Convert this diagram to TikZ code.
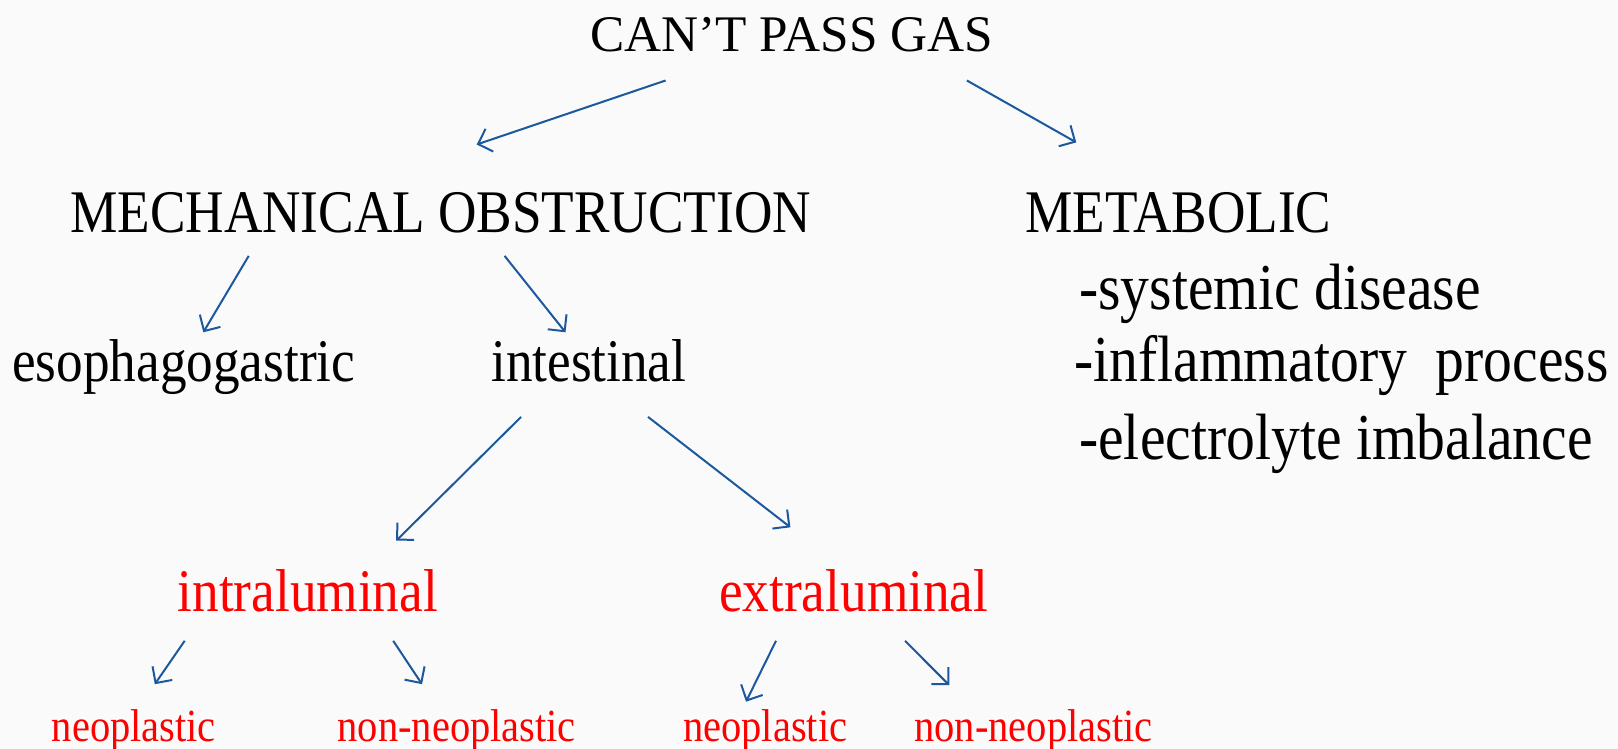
\documentclass[tikz,border=0pt]{standalone}
\usepackage{fontspec}
\setmainfont{Liberation Serif}
\newfontfamily\cfont[FakeStretch=0.88]{Liberation Serif}
\usetikzlibrary{arrows.meta}
\definecolor{bg}{RGB}{250,250,250}
\definecolor{arrowblue}{RGB}{28,88,158}
\definecolor{lred}{RGB}{255,0,0}
\tikzset{
  txt/.style={anchor=base west, inner sep=0pt, font=\cfont\fontsize{60.5}{72}\selectfont},
  ttl/.style={anchor=base west, inner sep=0pt, font=\fontsize{51.3}{60}\selectfont},
  lst/.style={anchor=base west, inner sep=0pt, font=\cfont\fontsize{65.5}{76}\selectfont},
  red/.style={txt, text=lred},
  sml/.style={anchor=base west, inner sep=0pt, text=lred, font=\cfont\fontsize{46}{55}\selectfont},
  arr/.style={draw=arrowblue, line width=2pt, -{Straight Barb[length=12pt,width=24pt]}},
}
\begin{document}
\begin{tikzpicture}[x=1pt,y=-1pt]
\fill[bg] (0,0) rectangle (1618,749);
\useasboundingbox (0,0) rectangle (1618,749);

\node[ttl] (title) at (590,51.6) {CAN’T PASS GAS};
\node[txt] (mech) at (70,233) {MECHANICAL OBSTRUCTION};
\node[txt] (meta) at (1025,233) {METABOLIC};
\node[lst] (sys) at (1079,309.6) {-systemic disease};
\node[lst] (infl) at (1074,381.8) {-inflammatory\ \ process};
\node[lst] (elec) at (1079,459.2) {-electrolyte imbalance};
\node[txt] (eso) at (12,381.8) {esophagogastric};
\node[txt] (int) at (491,381.8) {intestinal};
\node[red] (intra) at (177.5,611.9) {intraluminal};
\node[red] (extra) at (719,611.9) {extraluminal};
\node[sml] (neo1) at (51.6,741) {neoplastic};
\node[sml] (non1) at (337.4,741) {non-neoplastic};
\node[sml] (neo2) at (683,741) {neoplastic};
\node[sml] (non2) at (914.3,741) {non-neoplastic};

\coordinate (a1s) at (665.6,80.5);  \coordinate (a1e) at (476.7,144.5);
\coordinate (a2s) at (966.9,80.5);  \coordinate (a2e) at (1076.3,142.4);
\coordinate (a3s) at (248.7,255.9); \coordinate (a3e) at (203.3,332.3);
\coordinate (a4s) at (504.6,255.9); \coordinate (a4e) at (565.5,332.3);
\coordinate (a5s) at (521.1,416.9); \coordinate (a5e) at (396.2,540.7);
\coordinate (a6s) at (648,416.9);   \coordinate (a6e) at (790.4,527.3);
\coordinate (a7s) at (184.7,640.8); \coordinate (a7e) at (154.8,684.2);
\coordinate (a8s) at (393.2,640.8); \coordinate (a8e) at (422,684.2);
\coordinate (a9s) at (776,640.8);   \coordinate (a9e) at (746,701.7);
\coordinate (a10s) at (905,640.8);  \coordinate (a10e) at (949.3,685.2);

\draw[arr] (a1s) -- (a1e);
\draw[arr] (a2s) -- (a2e);
\draw[arr] (a3s) -- (a3e);
\draw[arr] (a4s) -- (a4e);
\draw[arr] (a5s) -- (a5e);
\draw[arr] (a6s) -- (a6e);
\draw[arr] (a7s) -- (a7e);
\draw[arr] (a8s) -- (a8e);
\draw[arr] (a9s) -- (a9e);
\draw[arr] (a10s) -- (a10e);
\end{tikzpicture}
\end{document}
